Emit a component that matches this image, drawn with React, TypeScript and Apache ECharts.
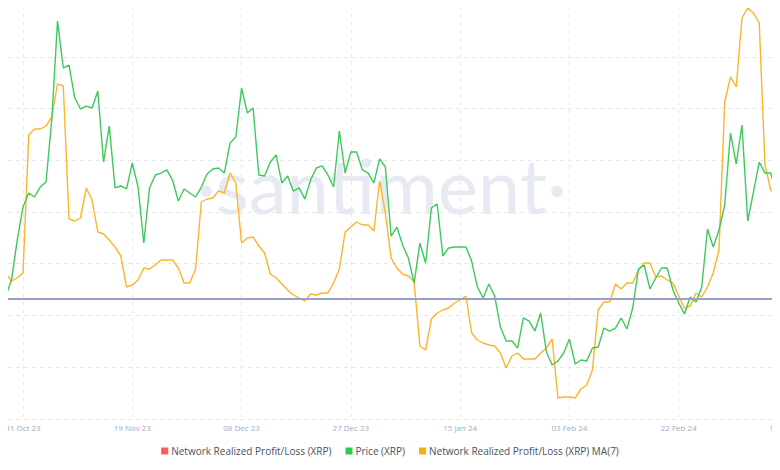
import React, { useEffect, useRef } from "react";
import * as echarts from "echarts";

// Daily categories: 27 Oct 2023 .. 12 Mar 2024
const startDate = new Date(Date.UTC(2023, 9, 27));
const dayCount = 138;
const monthNames = ["Jan", "Feb", "Mar", "Apr", "May", "Jun", "Jul", "Aug", "Sep", "Oct", "Nov", "Dec"];
const categories: string[] = [];
for (let i = 0; i < dayCount; i++) {
  const d = new Date(startDate.getTime() + i * 86400000);
  const dd = String(d.getUTCDate()).padStart(2, "0");
  const yy = String(d.getUTCFullYear()).slice(2);
  categories.push(`${dd} ${monthNames[d.getUTCMonth()]} ${yy}`);
}

// Price (XRP), USD
const priceValues: number[] = [
  0.5366, 0.5351, 0.5474, 0.5784, 0.6039, 0.6147, 0.6116, 0.6193, 0.6232, 0.6711,
  0.7476, 0.7113, 0.7136, 0.6881, 0.6796, 0.6819, 0.6804, 0.6935, 0.6386, 0.6665,
  0.6186, 0.6201, 0.6178, 0.6379, 0.6193, 0.5760, 0.6186, 0.6286, 0.6301, 0.6325,
  0.6247, 0.6085, 0.6178, 0.6147, 0.6116, 0.6193, 0.6294, 0.6332, 0.6340, 0.6301,
  0.6533, 0.6580, 0.6958, 0.6765, 0.6804, 0.6286, 0.6278, 0.6386, 0.6441, 0.6224,
  0.6278, 0.6162, 0.6186, 0.6100, 0.6247, 0.6340, 0.6356, 0.6286, 0.6193, 0.6626,
  0.6301, 0.6464, 0.6464, 0.6325, 0.6301, 0.6224, 0.6410, 0.6348, 0.5814, 0.5884,
  0.5745, 0.5644, 0.5451, 0.5760, 0.5606, 0.6031, 0.6062, 0.5660, 0.5722, 0.5729,
  0.5729, 0.5729, 0.5621, 0.5420, 0.5335, 0.5443, 0.5351, 0.5111, 0.5003, 0.5003,
  0.4949, 0.5181, 0.5157, 0.5080, 0.5219, 0.4918, 0.4817, 0.4848, 0.4910, 0.5018,
  0.4825, 0.4856, 0.4848, 0.4949, 0.4957, 0.5103, 0.5080, 0.5103, 0.5181, 0.5096,
  0.5258, 0.5559, 0.5590, 0.5405, 0.5490, 0.5567, 0.5567, 0.5397, 0.5297, 0.5212,
  0.5343, 0.5304, 0.5420, 0.5869, 0.5729, 0.5861, 0.6054, 0.6611, 0.6371, 0.6672,
  0.5930, 0.6155, 0.6386, 0.6301, 0.6301, 0.6147, 0.7329,
];

// Network Realized Profit/Loss (XRP) MA(7), millions XRP
const nrplMA7Values: number[] = [
  29, 26, 18, 21, 26, 164, 170, 170, 173, 182,
  215, 213, 80, 78, 81, 111, 99, 67, 65, 59,
  52, 43, 12, 14, 19, 31, 30, 34, 39, 39,
  39, 31, 16, 16, 30, 97, 100, 101, 108, 106,
  126, 116, 56, 61, 62, 53, 46, 25, 21, 15,
  9, 4, 1, -2, 5, 4, 6, 6, 16, 30,
  67, 72, 77, 74, 74, 68, 118, 86, 41, 31,
  25, 23, 17, -47, -51, -20, -14, -11, -9, -4,
  -1, 3, -34, -41, -44, -46, -47, -54, -69, -57,
  -54, -60, -60, -60, -54, -49, -40, -99, -98, -98,
  -99, -90, -86, -71, -11, -3, -3, 15, 10, 16,
  16, 29, 36, 36, 22, 23, 19, 16, 3, -9,
  -7, 6, 2, 12, 26, 49, 197, 222, 212, 281,
  291, 286, 276, 134, 109, 104, 71,
];

// Network Realized Profit/Loss (XRP) — not visible in the picture
const nrplValues: number[] = [];

const seriesNames = [
  "Network Realized Profit/Loss (XRP)",
  "Price (XRP)",
  "Network Realized Profit/Loss (XRP) MA(7)",
];

const labelEvery = (idx: number) => (idx - 4) % 19 === 0;

export default function App() {
  const ref = useRef<HTMLDivElement>(null);
  useEffect(() => {
    if (!ref.current) return;
    const chart = echarts.init(ref.current, undefined, { renderer: "svg" });
    const gridColor = "#e6e8f1";
    chart.setOption({
      animation: false,
      backgroundColor: "#ffffff",
      graphic: [
        {
          type: "text",
          left: 196,
          top: 146,
          z: -10,
          silent: true,
          style: {
            text: "\u00b7santiment\u00b7",
            fontSize: 76,
            fontFamily: "Lato, 'Open Sans', sans-serif",
            fontWeight: 400,
            fill: "#e8eaf3",
          },
        },
      ],
      legend: {
        bottom: 9,
        left: "center",
        icon: "rect",
        itemWidth: 7,
        itemHeight: 7,
        itemGap: 14,
        textStyle: { color: "#4a4f5e", fontSize: 10, fontFamily: "'Open Sans', sans-serif", padding: [0, 0, 0, -2] },
        data: seriesNames,
      },
      grid: { left: 0, top: 5, width: 788, height: 414, containLabel: false, outerBoundsMode: "none" },
      xAxis: {
        type: "category",
        data: categories,
        boundaryGap: false,
        axisLine: { show: true, lineStyle: { color: "#e3e6ee", width: 1 } },
        axisTick: { show: false },
        axisLabel: {
          interval: labelEvery,
          color: "#a3a9c2",
          fontSize: 8,
          margin: 4,
          fontFamily: "'Open Sans', sans-serif",
        },
        splitLine: { show: true, interval: labelEvery, lineStyle: { color: gridColor, type: [4, 4] } },
      },
      yAxis: [
        {
          type: "value",
          min: 0.44,
          max: 0.76,
          interval: 0.04,
          axisLabel: { show: false },
          axisLine: { show: false },
          axisTick: { show: false },
          splitLine: { show: true, lineStyle: { color: gridColor, type: [4, 4] } },
        },
        {
          type: "value",
          min: -120,
          max: 294,
          axisLabel: { show: false },
          axisLine: { show: false },
          axisTick: { show: false },
          splitLine: { show: false },
        },
      ],
      series: [
        {
          name: seriesNames[0],
          type: "bar",
          yAxisIndex: 1,
          data: nrplValues,
          itemStyle: { color: "#ff5c5c" },
        },
        {
          name: seriesNames[1],
          type: "line",
          yAxisIndex: 0,
          data: priceValues,
          showSymbol: false,
          lineStyle: { color: "#3ec95c", width: 1.4 },
          itemStyle: { color: "#2fc957" },
          z: 3,
        },
        {
          name: seriesNames[2],
          type: "line",
          yAxisIndex: 1,
          data: nrplMA7Values,
          showSymbol: false,
          lineStyle: { color: "#fdb42b", width: 1.4 },
          itemStyle: { color: "#fbae0a" },
          z: 2,
          markLine: {
            silent: true,
            symbol: "none",
            label: { show: false },
            lineStyle: { color: "#9c9ec6", width: 2, type: "solid" },
            data: [{ yAxis: 0 }],
          },
        },
      ],
    });
    return () => chart.dispose();
  }, []);
  return <div ref={ref} style={{ width: 780, height: 470, margin: -8, overflow: "hidden" }} />;
}
